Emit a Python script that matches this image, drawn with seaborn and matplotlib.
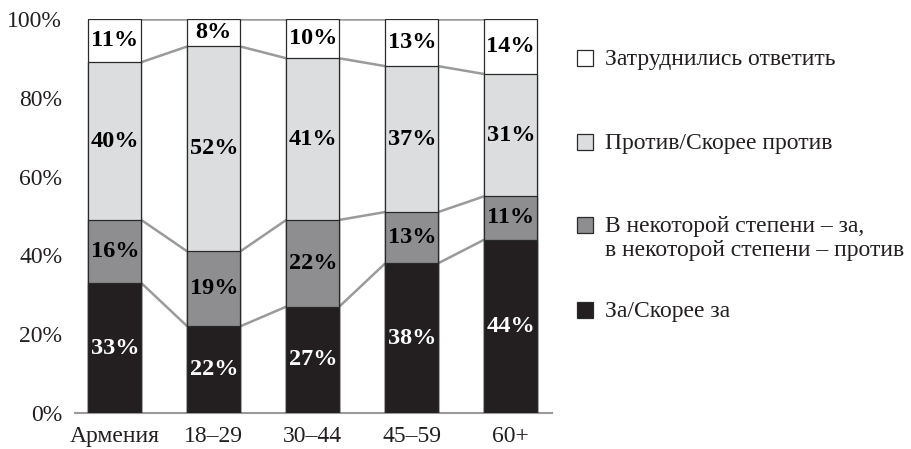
import numpy as np
import pandas as pd
import seaborn as sns
import matplotlib.pyplot as plt
from matplotlib.patches import Rectangle

# survey shares, % (bottom -> top)
groups = ['Армения', '18–29', '30–44', '45–59', '60+']
za = [33, 22, 27, 38, 44]
partly = [16, 19, 22, 13, 11]
against = [40, 52, 41, 37, 31]
unsure = [11, 8, 10, 13, 14]

series_names = ['За/Скорее за',
                'В некоторой степени – за,\nв некоторой степени – против',
                'Против/Скорее против',
                'Затруднились ответить']
colors = ['#231f20', '#8e8e90', '#dcdddf', '#ffffff']
yticks = [0, 20, 40, 60, 80, 100]

sns.set_style('white')
plt.rcParams['font.family'] = ['Liberation Serif', 'DejaVu Serif']

df = pd.DataFrame({'group': groups, 'za': za, 'partly': partly,
                   'against': against, 'unsure': unsure})
df['c1'] = df['za']
df['c2'] = df['c1'] + df['partly']
df['c3'] = df['c2'] + df['against']
df['c4'] = 100  # top segment fills to 100%

fig = plt.figure(figsize=(9.12, 4.49), dpi=100)
ax = fig.add_axes([0.082, 0.080, 0.523, 0.878])

bw = 0.535
for col, color in zip(['c4', 'c3', 'c2', 'c1'], colors[::-1]):
    sns.barplot(data=df, x='group', y=col, order=groups, color=color,
                width=bw, edgecolor='#2a2a2a', linewidth=0.9,
                saturation=1, ax=ax, zorder=3)

# connecting lines between bars at each boundary
for col in ['c1', 'c2', 'c3', 'c4']:
    vals = df[col].values
    for i in range(len(groups) - 1):
        ax.plot([i + bw / 2, i + 1 - bw / 2], [vals[i], vals[i + 1]],
                color='#9a9a9a', lw=1.8, zorder=2, solid_capstyle='butt')

# value labels
cols = ['za', 'partly', 'against', 'unsure']
bottoms = [np.zeros(len(groups)), df['c1'].values, df['c2'].values, df['c3'].values]
tops = [df['c1'].values, df['c2'].values, df['c3'].values, df['c4'].values]
for k, col in enumerate(cols):
    tc = 'white' if k == 0 else 'black'
    for i, v in enumerate(df[col].values):
        ax.text(i, (bottoms[k][i] + tops[k][i]) / 2, f'{v}%', ha='center',
                va='center', fontsize=17.5, fontweight='bold', color=tc, zorder=5)

ax.set_xlim(-0.404, 4.414)
ax.set_ylim(0, 100)
ax.set_yticks(yticks)
ax.set_yticklabels([f'{t}%' for t in yticks])
ax.set_xlabel('')
ax.set_ylabel('')
ax.tick_params(axis='both', length=0, labelsize=17, colors='#231f20')
ax.tick_params(axis='y', pad=9)
ax.tick_params(axis='x', pad=9)
for s in ['left', 'top', 'right']:
    ax.spines[s].set_visible(False)
ax.spines['bottom'].set_color('#9a9a9a')
ax.spines['bottom'].set_linewidth(1.5)

# legend drawn by hand
leg_y = [58, 142, 225, 310]  # square centres, pixels from top
leg_order = [3, 2, 1, 0]
for row, k in zip(leg_y, leg_order):
    yf = 1 - row / 449
    fig.patches.append(Rectangle((577 / 912, yf - 8 / 449), 16 / 912, 16 / 449,
                                 transform=fig.transFigure, facecolor=colors[k],
                                 edgecolor='#2a2a2a', linewidth=0.9))
    for j, line in enumerate(series_names[k].split('\n')):
        fig.text(605 / 912, 1 - (row + 7 + 24 * j) / 449, line, ha='left',
                 va='baseline', fontsize=17, color='#231f20')

fig.savefig('out.png', dpi=100)
